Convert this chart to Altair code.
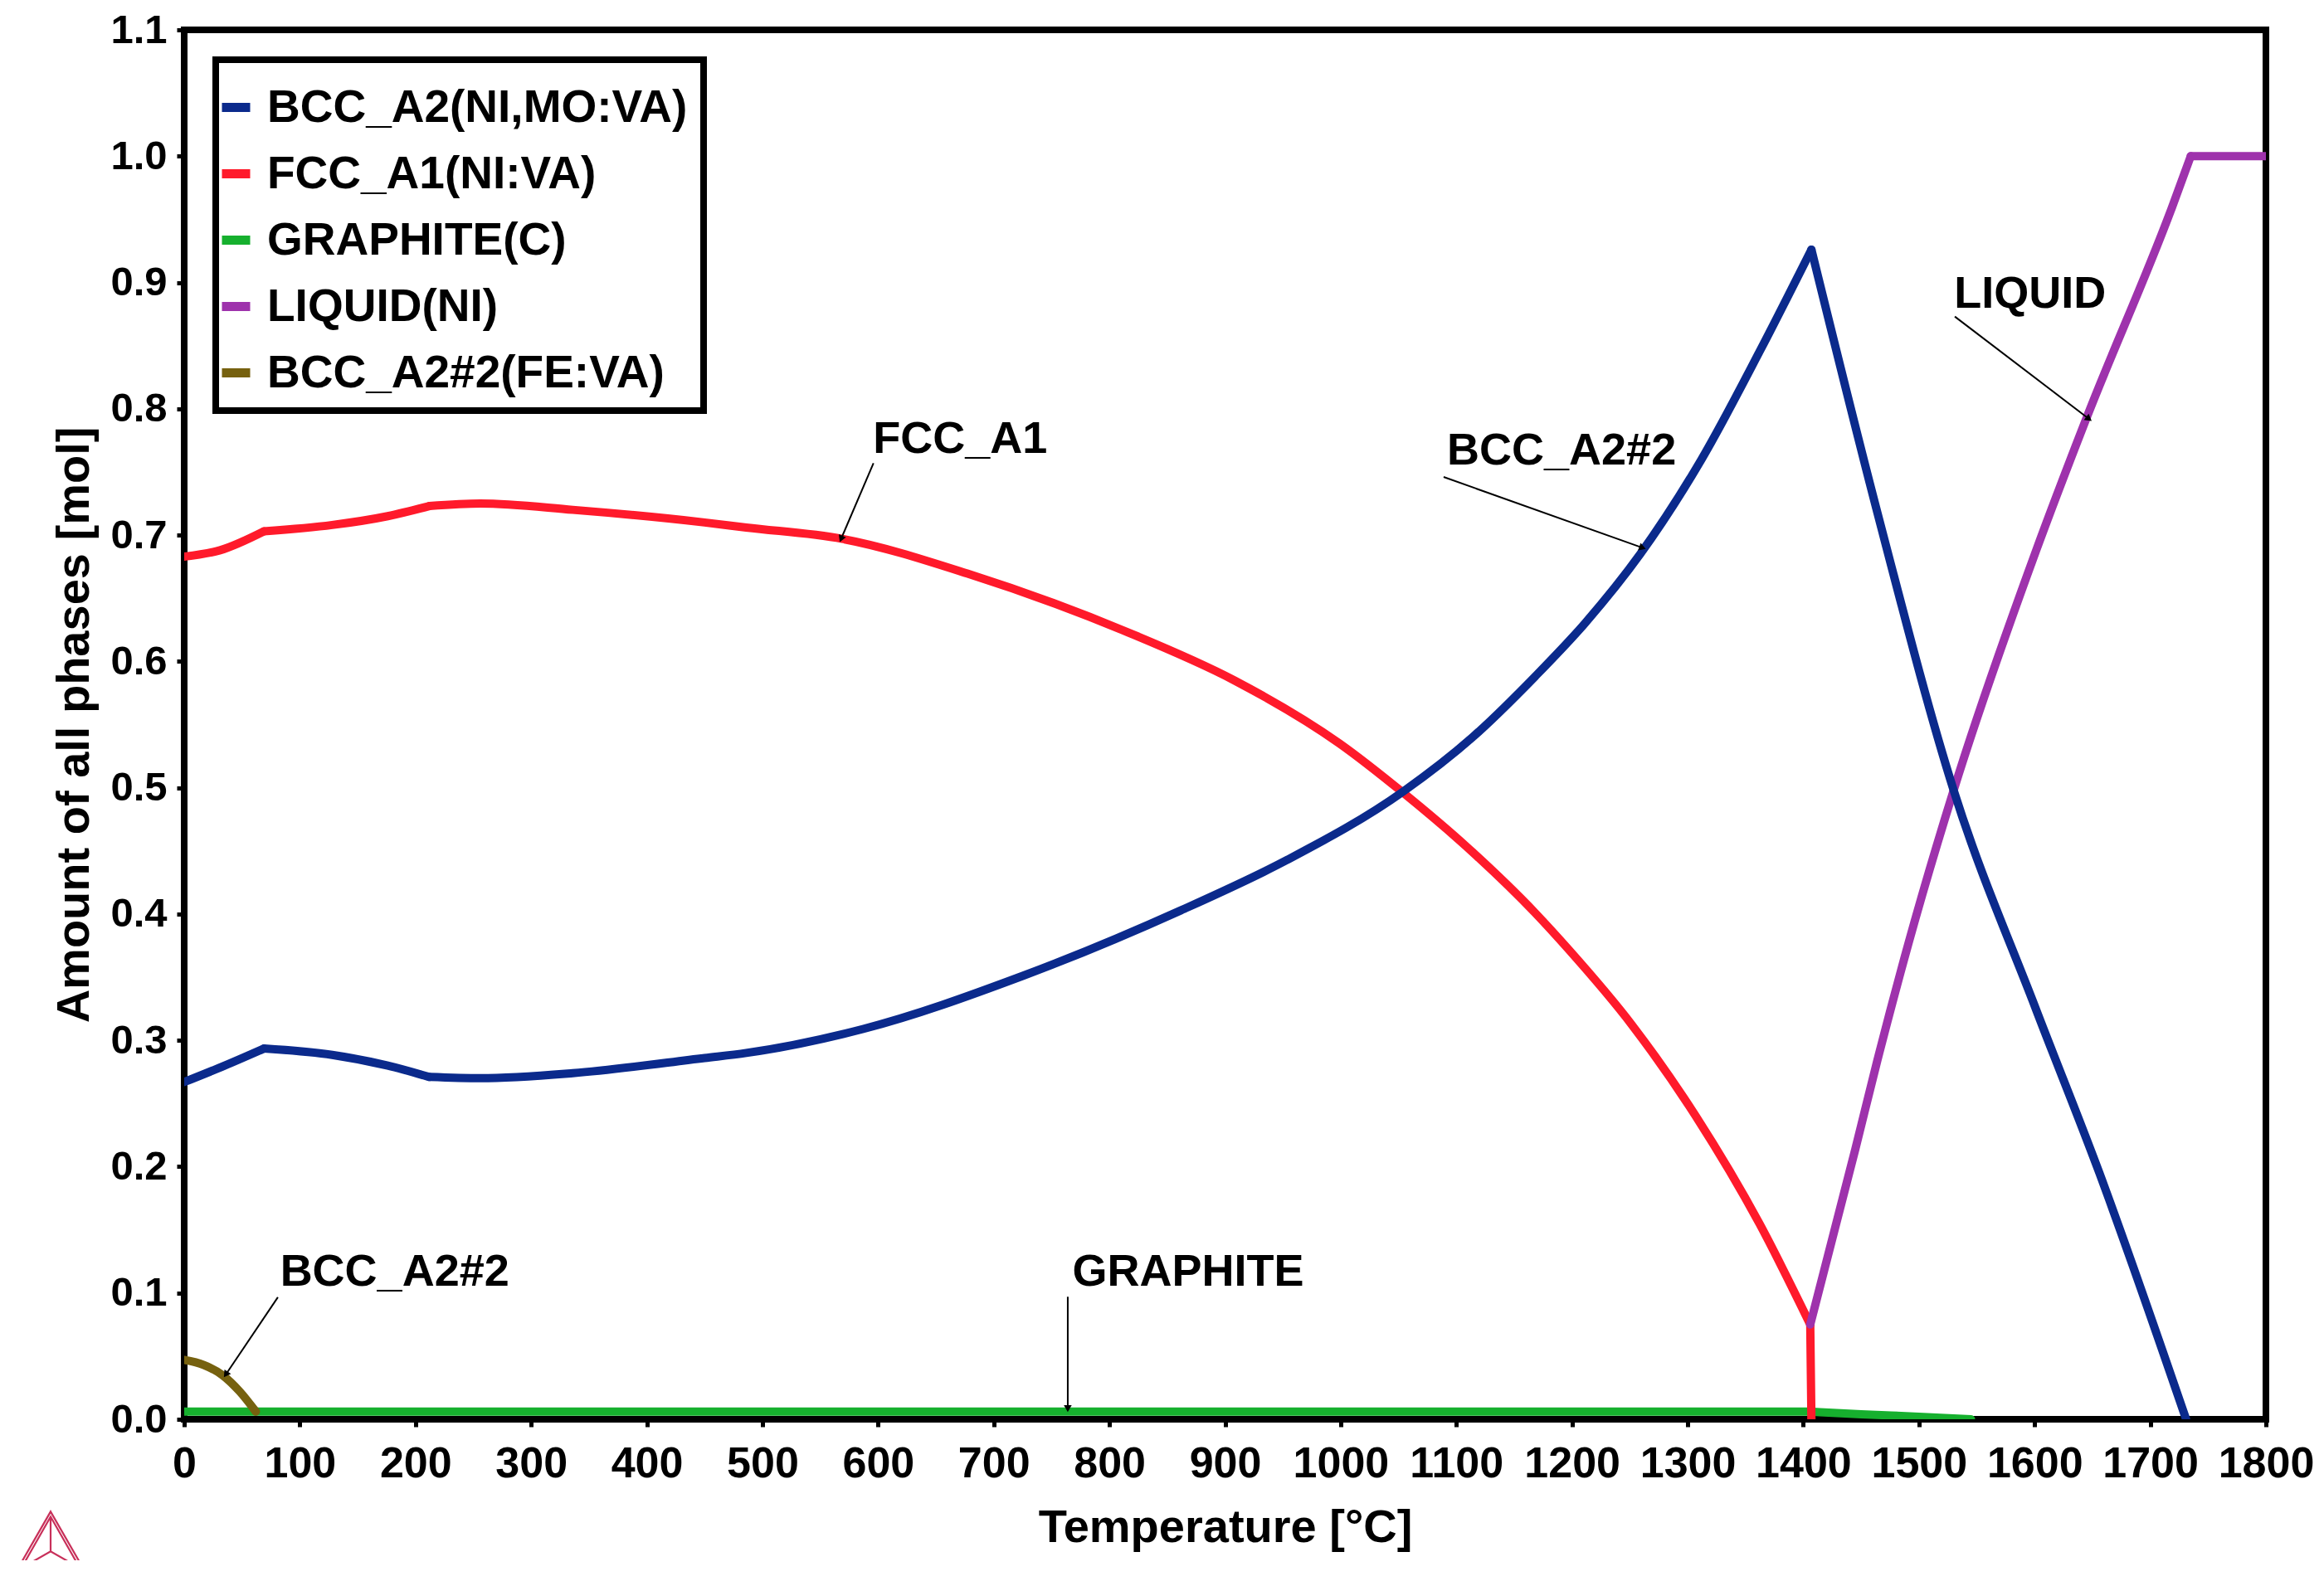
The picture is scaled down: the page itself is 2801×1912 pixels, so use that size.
import math
import altair as alt
import pandas as pd

# ---------------- data ----------------
x_ticks = list(range(0, 1801, 100))
y_ticks = [0.0, 0.1, 0.2, 0.3, 0.4, 0.5, 0.6, 0.7, 0.8, 0.9, 1.0, 1.1]

phases = ["BCC_A2(NI,MO:VA)", "FCC_A1(NI:VA)", "GRAPHITE(C)", "LIQUID(NI)", "BCC_A2#2(FE:VA)"]
colors = ["#0b2a8c", "#ff1a2b", "#16b02e", "#9e32ac", "#76610f"]

bcc_T = [0, 35, 69, 128, 176, 212, 256, 336, 450, 486, 587, 725, 862, 954, 1054, 1114,
         1168, 1211, 1259, 1312, 1362, 1407, 1464, 1530, 1601, 1656, 1731]
bcc_V = [0.267, 0.280, 0.2935, 0.2885, 0.280, 0.271, 0.270, 0.274, 0.286, 0.290, 0.309, 0.351,
         0.403, 0.443, 0.497, 0.540, 0.588, 0.630, 0.685, 0.760, 0.845, 0.926, 0.718, 0.498,
         0.325, 0.195, 0.0]
bcc_kinks = [69, 212, 1407]

fcc_T = [0, 31, 69, 128, 176, 212, 256, 336, 450, 486, 569, 679, 816, 908, 999, 1054, 1114,
         1168, 1197, 1252, 1307, 1362, 1406, 1407]
fcc_V = [0.683, 0.688, 0.703, 0.708, 0.715, 0.723, 0.725, 0.720, 0.710, 0.706, 0.697, 0.669,
         0.623, 0.585, 0.535, 0.496, 0.449, 0.401, 0.372, 0.312, 0.240, 0.155, 0.075, 0.0]
fcc_kinks = [69, 212, 1406]

gra_T = [0, 1406, 1450, 1500, 1545]
gra_V = [0.006, 0.006, 0.004, 0.002, 0.0]
gra_kinks = [1406]

liq_T = [1406, 1445, 1464, 1491, 1530, 1601, 1645, 1719, 1735, 1800]
liq_V = [0.075, 0.214, 0.284, 0.377, 0.498, 0.687, 0.793, 0.960, 1.0, 1.0]
liq_kinks = [1735]

bcc2_T = [0, 17, 33, 48, 62]
bcc2_V = [0.047, 0.043, 0.035, 0.022, 0.006]
bcc2_kinks = []

# annotations: label, text position (baseline), leader start, leader end
ann_text = ["FCC_A1", "BCC_A2#2", "LIQUID", "BCC_A2#2", "GRAPHITE"]
ann_T = [671, 1191, 1596, 182, 868]
ann_V = [0.765, 0.756, 0.880, 0.106, 0.106]
lead_T1 = [596, 1089, 1531, 81, 764]
lead_V1 = [0.757, 0.746, 0.873, 0.0966, 0.097]
lead_T2 = [568, 1261, 1647, 36, 764]
lead_V2 = [0.697, 0.690, 0.792, 0.0355, 0.0085]

# ---------------- layout ----------------
W, H = 2509, 1675
FONT = "Liberation Sans, Arial, Helvetica, sans-serif"

# draw order: green, olive, red, purple, blue (blue on top)
series = [
    ("GRAPHITE(C)", gra_T, gra_V, gra_kinks),
    ("BCC_A2#2(FE:VA)", bcc2_T, bcc2_V, bcc2_kinks),
    ("FCC_A1(NI:VA)", fcc_T, fcc_V, fcc_kinks),
    ("LIQUID(NI)", liq_T, liq_V, liq_kinks),
    ("BCC_A2(NI,MO:VA)", bcc_T, bcc_V, bcc_kinks),
]
rows = []
for name, ts, vs, kinks in series:
    seg = 0
    for i, (t, v) in enumerate(zip(ts, vs)):
        rows.append({"phase": name, "seg": f"{name}-{seg}", "T": t, "V": v, "idx": i})
        if t in kinks and i < len(ts) - 1:
            seg += 1
            # the kink point also starts the next smooth piece
            rows.append({"phase": name, "seg": f"{name}-{seg}", "T": t, "V": v, "idx": i})
df = pd.DataFrame(rows)

xs = alt.Scale(domain=[0, 1800], nice=False, zero=False)
ys = alt.Scale(domain=[0, 1.1], nice=False)

lines = alt.Chart(df).mark_line(strokeWidth=10, clip=True, interpolate="monotone",
                                strokeCap="round", strokeJoin="round").encode(
    x=alt.X("T:Q", scale=xs, axis=alt.Axis(
        values=x_ticks, format="d", title="Temperature [°C]", labelPadding=19,
        labelFontSize=52, labelFlush=False, labelOverlap=False,
        titleX=W / 2, titleY=147, titleBaseline="alphabetic")),
    y=alt.Y("V:Q", scale=ys, axis=alt.Axis(
        values=y_ticks, format=".1f", title="Amount of all phases [mol]", labelPadding=12,
        labelFontSize=49, labelFlush=False, labelOverlap=False, titleX=-116, titleY=H / 2,
        titleBaseline="alphabetic", titleAngle=270)),
    color=alt.Color("phase:N", scale=alt.Scale(domain=phases, range=colors),
                    legend=alt.Legend(title=None, orient="none", legendX=35, legendY=66)),
    detail="seg:N",
    order=alt.Order("idx:Q"),
)

# annotation text
tdf = pd.DataFrame({"label": ann_text, "T": ann_T, "V": ann_V})
texts = alt.Chart(tdf).mark_text(font=FONT, fontSize=54, fontWeight="bold", align="center",
                                 baseline="alphabetic", color="black").encode(
    x=alt.X("T:Q", scale=xs), y=alt.Y("V:Q", scale=ys), text="label:N")

# leader lines
ldf = pd.DataFrame({"T": lead_T1, "V": lead_V1, "T2": lead_T2, "V2": lead_V2})
leaders = alt.Chart(ldf).mark_rule(color="black", strokeWidth=2).encode(
    x=alt.X("T:Q", scale=xs), y=alt.Y("V:Q", scale=ys), x2="T2:Q", y2="V2:Q")

# arrow heads, rotated along each leader line
angles = []
for t1, v1, t2, v2 in zip(lead_T1, lead_V1, lead_T2, lead_V2):
    dx = (t2 - t1) * W / 1800.0
    dy = -(v2 - v1) * H / 1.1
    angles.append(math.degrees(math.atan2(dx, -dy)) % 360)
adf = pd.DataFrame({"T": lead_T2, "V": lead_V2, "ang": angles})
heads = alt.Chart(adf).mark_point(shape="triangle-up", filled=True, color="black", size=90,
                                  opacity=1).encode(
    x=alt.X("T:Q", scale=xs), y=alt.Y("V:Q", scale=ys),
    angle=alt.Angle("ang:Q", scale=None))

# legend frame
one = pd.DataFrame({"a": [0]})
legend_box = alt.Chart(one).mark_rect(filled=False, stroke="black", strokeWidth=8).encode(
    x=alt.value(38), x2=alt.value(626), y=alt.value(36), y2=alt.value(459))

# Thermo-Calc style logo
logo_path = ("M0,-0.87 L1,0.87 L-1,0.87 Z M0,-0.72 L0.86,0.79 L-0.86,0.79 Z "
             "M0,-0.72 L0,0.3 M-0.86,0.79 L0,0.3 L0.86,0.79")
logo = alt.Chart(one).mark_point(shape=logo_path, filled=False, stroke="#c8305a",
                                 strokeWidth=2.2, size=6724, opacity=1).encode(
    x=alt.value(-161), y=alt.value(1822))

chart = alt.layer(lines, leaders, heads, texts, legend_box, logo).properties(
    width=W, height=H,
    autosize=alt.AutoSizeParams(type="none"),
    padding={"left": 214, "top": 28, "right": 62, "bottom": 170},
).configure_view(
    stroke="black", strokeWidth=8
).configure_axis(
    labelFont=FONT, labelFontWeight="bold", labelColor="black",
    titleFont=FONT, titleFontSize=56, titleFontWeight="bold", titleColor="black",
    tickColor="black", tickWidth=5, tickSize=9, domain=False, grid=False,
).configure_legend(
    labelFont=FONT, labelFontSize=55, labelFontWeight="bold", labelColor="black",
    symbolType="stroke", symbolStrokeWidth=11, symbolSize=1156, labelOffset=10,
    rowPadding=24, padding=0, labelLimit=2000,
)

chart.save("out.html", embed_options={"renderer": "svg", "actions": False})
